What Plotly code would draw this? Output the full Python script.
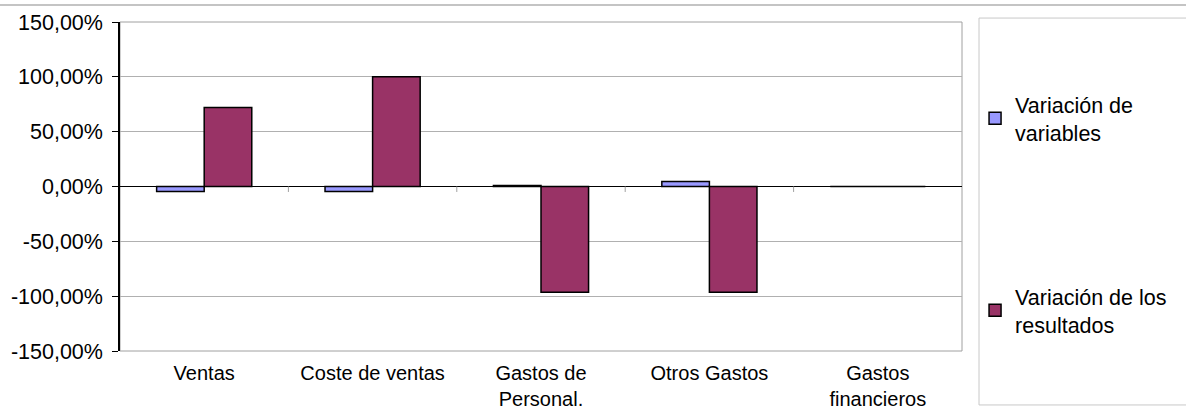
import plotly.graph_objects as go

categorias = ["Ventas", "Coste de ventas", "Gastos de<br>Personal.", "Otros Gastos", "Gastos<br>financieros"]
variacion_variables = [-4.5, -4.5, 1.0, 4.5, 0.0]
variacion_resultados = [72.0, 100.0, -96.5, -96.5, 0.0]

valores_eje_y = [-150, -100, -50, 0, 50, 100, 150]
etiquetas_eje_y = ["-150,00%", "-100,00%", "-50,00%", "0,00%", "50,00%", "100,00%", "150,00%"]

fuente = dict(family="Liberation Sans, Arial, sans-serif", size=21.5, color="black")

fig = go.Figure()
fig.add_trace(go.Bar(
    x=categorias, y=variacion_variables,
    name="Variación de<br>variables",
    marker=dict(color="#9999FF", line=dict(color="black", width=1.5)),
    legendgroup="a",
))
fig.add_trace(go.Bar(
    x=categorias, y=variacion_resultados,
    name="Variación de los<br>resultados",
    marker=dict(color="#993366", line=dict(color="black", width=1.5)),
    legendgroup="b",
))

# marcas del eje de categorias sobre la linea del cero
for i in range(len(categorias) - 1):
    fig.add_shape(type="line", xref="x", yref="y", x0=i + 0.5, x1=i + 0.5, y0=0, y1=-5,
                  line=dict(color="#a0a0a0", width=1))

# borde del area de trazado
fig.add_shape(type="rect", xref="paper", yref="paper", x0=0, x1=1, y0=0, y1=1,
              line=dict(color="#a0a0a0", width=1), layer="below")
# marco de la leyenda
fig.add_shape(type="rect", xref="paper", yref="paper", x0=1.0202, x1=1.29, y0=-0.164, y1=1.012,
              line=dict(color="#c8c8c8", width=1), layer="below")
# linea superior del grafico
fig.add_shape(type="line", xref="paper", yref="paper", x0=-0.15, x1=1.3, y0=1.0517, y1=1.0517,
              line=dict(color="#b0b0b0", width=1.5))

fig.update_layout(
    width=1186, height=412,
    margin=dict(l=120, r=224, t=22, b=61),
    paper_bgcolor="white", plot_bgcolor="white",
    font=fuente,
    barmode="group", bargap=0.435, bargroupgap=0,
    showlegend=True,
    legend=dict(x=1.0155, y=0.812, xanchor="left", yanchor="top",
                tracegroupgap=133, font=fuente, bgcolor="rgba(0,0,0,0)"),
)
fig.update_yaxes(
    range=[-150, 150], tickvals=valores_eje_y, ticktext=etiquetas_eje_y,
    automargin=False,
    showgrid=True, gridcolor="#b0b0b0", gridwidth=1,
    zeroline=True, zerolinecolor="black", zerolinewidth=1,
    showline=True, linecolor="black", linewidth=1.5,
    ticks="outside", ticklen=6, tickcolor="black", ticklabelstandoff=5,
)
fig.update_xaxes(
    automargin=False, tickfont=dict(size=20),
    showgrid=False, showline=False, ticks="", ticklabelstandoff=8,
)

# sin margen del navegador, para que la figura ocupe la ventana entera
fig.write_html("out.html", config={"displayModeBar": False},
               post_script="document.body.style.margin='0';")
